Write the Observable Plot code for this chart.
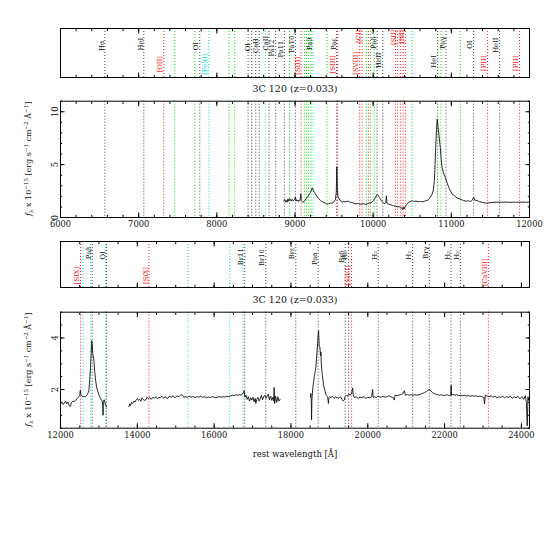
<!DOCTYPE html>
<html><head><meta charset="utf-8">
<script src="https://cdn.jsdelivr.net/npm/d3@7"></script>
<script src="https://cdn.jsdelivr.net/npm/@observablehq/plot@0.6"></script>
<style>
body{margin:0;background:#fff}
#c{position:relative;width:558px;height:558px;background:#fff;overflow:hidden}
#c svg{position:absolute;left:0;overflow:visible}
</style></head><body><div id="c"></div>
<script>
// ---------------- DATA ----------------
const titleText = "3C 120 (z=0.033)";
const xLabelText = "rest wavelength [Å]";

// upper (optical/z-band) spectrum
const upWave = [8856,8870,8880,8890,8899,8910,8920,8930,8941,8952,8962,8975,8984,8995,9005,9012,9020,9030,9040,9048,9058,9068,9074,9080,9090,9100,9112,9125,9140,9154,9170,9185,9197,9210,9222,9230,9245,9261,9280,9303,9325,9346,9370,9390,9410,9430,9455,9474,9495,9517,9528,9535,9542,9550,9565,9585,9602,9625,9650,9687,9710,9730,9751,9775,9800,9836,9860,9885,9910,9935,9960,9985,10005,10025,10040,10052,10065,10080,10092,10110,10135,10150,10162,10169,10176,10199,10225,10250,10284,10310,10330,10348,10365,10378,10385,10395,10412,10430,10454,10475,10497,10520,10550,10580,10604,10630,10660,10689,10710,10731,10753,10770,10783,10792,10800,10810,10820,10830,10845,10859,10870,10881,10900,10923,10945,10966,10990,11008,11040,11072,11110,11140,11158,11190,11220,11243,11265,11286,11300,11328,11360,11400,11430,11456,11490,11520,11584,11640,11700,11750,11797,11850,11900,11950,11995];
const upFlux = [1.55,1.70,1.45,1.62,1.45,1.75,1.55,1.80,1.70,1.55,1.72,1.58,1.62,1.70,1.95,1.55,1.68,1.55,1.65,1.52,1.60,1.75,2.25,1.60,1.50,1.45,1.48,1.62,1.75,1.88,2.05,2.25,2.35,2.60,2.80,2.65,2.40,2.25,2.00,1.78,1.62,1.50,1.42,1.35,1.25,1.30,1.38,1.35,1.45,1.70,2.40,4.80,2.60,1.95,1.75,1.55,1.45,1.52,1.48,1.55,1.40,1.42,1.35,1.30,1.33,1.25,1.28,1.30,1.22,1.33,1.38,1.45,1.62,1.85,2.05,2.17,2.05,1.90,1.75,1.55,1.35,1.30,1.40,2.05,1.35,1.25,1.20,1.12,1.08,1.00,1.05,0.95,0.90,0.75,1.00,0.80,1.06,1.25,1.45,1.50,1.58,1.52,1.55,1.50,1.52,1.48,1.55,1.60,1.70,1.90,2.20,2.60,3.50,5.00,6.60,8.30,9.30,8.60,7.60,6.60,5.50,4.76,4.20,3.80,3.30,2.87,2.50,2.24,2.05,1.86,1.75,1.65,1.60,1.55,1.58,1.50,1.62,1.90,1.65,1.60,1.50,1.42,1.38,1.35,1.40,1.42,1.45,1.44,1.46,1.43,1.45,1.44,1.46,1.44,1.45];

// lower (J/H/K) spectrum; NaN marks the gaps between bands
const lowWave = [12010,12040,12070,12100,12130,12160,12190,12220,12250,12261,12290,12320,12350,12391,12420,12450,12478,12500,12515,12530,12560,12600,12652,12700,12739,12760,12782,12800,12815,12826,12840,12869,12890,12913,12940,12973,13000,13043,13070,13087,13100,13108,13115,13140,13170,13199,13500,
13782,13800,13820,13850,13880,13910,13940,13970,14000,14030,14060,14090,14120,14150,14180,14216,14250,14280,14320,14360,14400,14440,14480,14520,14560,14600,14640,14680,14720,14782,14830,14880,14930,14980,15030,15080,15130,15173,15210,15260,15300,15350,15400,15450,15500,15550,15600,15651,15700,15750,15800,15850,15900,15950,16000,16050,16086,16130,16180,16230,16280,16330,16380,16430,16480,16519,16560,16600,16650,16700,16737,16780,16800,16830,16860,16890,16920,16950,16980,17010,17040,17070,17084,17110,17140,17170,17200,17230,17260,17290,17320,17350,17380,17410,17440,17470,17500,17530,17550,17562,17575,17600,17630,17660,17690,17718,18100,
18505,18519,18530,18536,18545,18571,18590,18606,18630,18649,18670,18693,18708,18719,18735,18754,18770,18780,18790,18805,18823,18850,18884,18910,18930,18953,18975,18990,19010,19040,19070,19100,19130,19160,19200,19250,19290,19330,19360,19388,19410,19440,19470,19500,19540,19580,19605,19620,19650,19700,19750,19800,19850,19900,19950,20000,20050,20100,20127,20140,20180,20220,20260,20300,20350,20400,20450,20500,20550,20600,20650,20692,20710,20760,20800,20850,20900,20953,20980,21030,21080,21130,21180,21230,21280,21330,21380,21430,21480,21530,21580,21610,21640,21680,21720,21770,21820,21870,21920,21970,22020,22070,22120,22160,22170,22180,22220,22270,22320,22370,22420,22470,22520,22570,22620,22670,22720,22770,22820,22870,22920,22970,23020,23039,23060,23110,23160,23210,23260,23310,23360,23410,23460,23510,23560,23610,23660,23710,23760,23810,23860,23910,23960,24010,24060,24100,24130,24151,24170,24190,24210];
const lowFlux = [1.46,1.50,1.42,1.48,1.55,1.45,1.52,1.40,1.34,1.38,1.50,1.55,1.52,1.59,1.62,1.68,1.72,1.75,1.97,1.80,1.75,1.72,1.72,1.80,1.97,2.40,2.87,3.40,3.90,3.75,3.40,3.13,2.70,2.36,2.10,1.91,1.80,1.65,1.58,1.52,1.40,1.00,1.55,1.60,1.40,1.33,NaN,
1.33,1.45,1.38,1.50,1.46,1.55,1.52,1.60,1.65,1.58,1.62,1.55,1.68,1.62,1.58,1.59,1.70,1.65,1.69,1.62,1.70,1.66,1.72,1.64,1.70,1.68,1.74,1.66,1.72,1.65,1.74,1.70,1.76,1.68,1.75,1.72,1.80,1.78,1.70,1.72,1.69,1.74,1.70,1.73,1.69,1.72,1.70,1.74,1.70,1.72,1.68,1.71,1.69,1.72,1.70,1.68,1.70,1.73,1.70,1.72,1.71,1.74,1.72,1.75,1.78,1.76,1.80,1.78,1.80,1.79,1.82,1.95,1.70,1.78,1.62,1.72,1.55,1.68,1.59,1.70,1.52,1.66,1.46,1.62,1.70,1.55,1.65,1.78,1.60,1.72,1.78,1.66,1.75,1.82,1.60,1.75,1.58,1.70,1.55,2.08,1.46,1.75,1.50,1.72,1.55,1.62,NaN,
1.70,1.85,1.50,0.82,1.60,2.10,2.30,2.49,2.70,2.87,3.30,3.77,4.10,4.28,3.70,3.64,3.30,3.45,3.00,2.70,2.49,2.15,1.97,1.80,1.75,1.72,1.46,1.70,1.72,1.68,1.74,1.70,1.66,1.72,1.68,1.66,1.72,1.62,1.55,1.59,1.72,1.78,1.75,1.82,1.78,1.85,2.06,1.80,1.69,1.72,1.66,1.70,1.69,1.72,1.66,1.70,1.68,1.72,2.00,1.69,1.72,1.68,1.74,1.72,1.70,1.74,1.70,1.72,1.76,1.72,1.70,1.59,1.78,1.76,1.78,1.80,1.82,1.95,1.78,1.80,1.78,1.80,1.78,1.80,1.78,1.80,1.82,1.85,1.88,1.93,1.98,2.00,1.95,1.88,1.85,1.82,1.80,1.78,1.80,1.76,1.78,1.80,1.76,1.78,2.17,1.78,1.81,1.78,1.80,1.76,1.78,1.76,1.78,1.75,1.77,1.74,1.76,1.74,1.76,1.72,1.75,1.72,1.70,1.44,1.78,1.74,1.72,1.76,1.70,1.74,1.68,1.72,1.70,1.74,1.68,1.72,1.70,1.74,1.66,1.72,1.68,1.74,1.64,1.72,1.62,1.76,1.50,0.59,1.72,1.58,1.62];

// emission-line markers, upper range  (k=black r=red g=green c=cyan)
const upLineWave = [6567,7066,7321,7462,7718,7782,7897,8157,8229,8400,8446,8498,8542,8621,8668,8753,8864,8930,9005,9078,9120,9146,9175,9206,9231,9410,9531,9546,9827,9858,9913,9942,9965,10013,10050,10122,10284,10313,10348,10382,10412,10497,10825,10868,10932,11115,11285,11464,11618,11873];
const upLineCol  = ["k","k","r","g","g","k","c","g","g","k","k","k","k","c","k","k","k","g","k","r","g","g","g","g","c","g","r","k","r","r","g","r","g","g","k","k","r","r","r","r","r","g","k","g","k","g","k","r","k","r"];
const upLabText = ["Hα","HeI","[OII]","OI","[FeXI]","OI","CaII","CaII","Pa12","Pa11","Pa10","[SIII]","Pa9","[SIII]","Paε","[SVIII]","[CI]","Paδ","HeII","[SII]","[NI]","HeI","Paγ","OI","[PII]","HeII","[PII]"];
const upLabWave = [6567,7066,7321,7782,7897,8446,8542,8668,8753,8864,9005,9078,9231,9531,9546,9827,9858,10050,10122,10313,10412,10825,10932,11285,11464,11618,11873];
const upLabRow  = [0.65,0.68,0.27,0.64,0.27,0.62,0.65,0.70,0.60,0.58,0.68,0.24,0.69,0.27,0.68,0.29,0.84,0.71,0.35,0.82,0.84,0.33,0.71,0.67,0.29,0.66,0.29];
const upLabCol  = ["k","k","r","k","c","k","k","k","k","k","k","r","k","r","k","r","r","k","k","r","r","k","k","k","r","k","r"];

// emission-line markers, lower range
const lowLineWave = [12521,12582,12782,12825,13173,13199,14302,15318,16405,16753,16797,17344,18126,18708,19412,19500,19578,20271,21168,21601,22167,22410,23140];
const lowLineCol  = ["r","c","c","k","c","k","r","c","c","c","k","k","k","k","k","k","r","k","k","k","k","k","r"];
const lowLabText = ["[SIX]","Paβ","OI","[SiX]","Br11","Br10","Brε","Paα","Brδ","H₂","[SiVI]","H₂","H₂","Brγ","H₂","H₂","[CaVIII]"];
const lowLabWave = [12521,12825,13199,14302,16797,17344,18126,18708,19412,19500,19578,20271,21168,21601,22167,22410,23140];
const lowLabRow  = [0.26,0.75,0.70,0.26,0.67,0.65,0.74,0.63,0.67,0.70,0.26,0.70,0.70,0.76,0.70,0.70,0.33];
const lowLabCol  = ["r","k","k","r","k","k","k","k","k","k","r","k","k","k","k","k","r"];

// axes
const upXTicks = [6000,7000,8000,9000,10000,11000,12000];
const upYTicks = [0,5,10];
const lowXTicks = [12000,14000,16000,18000,20000,22000,24000];
const lowYTicks = [2,4];

// ---------------- DRAWING ----------------
const FONT = "DejaVu Serif";
const COLORS = {k:"#444", r:"#ff1a1a", g:"#00dd00", c:"#00e0e0"};
const DASH = "1,2";
const W = 558, ML = 60, MR = 29;
const box = document.getElementById("c");
function put(svg, top){ svg.style.top = top + "px"; box.appendChild(svg); }
const blank = () => "";

function xTicks(majors, minors, labelled, pad){
  return [
    Plot.axisX({anchor:"top", ticks:majors, tickSize:-4.5, tickFormat:blank, label:null, stroke:"#000"}),
    Plot.axisX({anchor:"top", ticks:minors, tickSize:-2.2, tickFormat:blank, label:null, stroke:"#000"}),
    Plot.axisX({anchor:"bottom", ticks:minors, tickSize:-2.2, tickFormat:blank, label:null, stroke:"#000"}),
    Plot.axisX({anchor:"bottom", ticks:majors, tickSize:-4.5, tickFormat: labelled ? (d=>String(d)) : blank, tickPadding: pad, label:null, stroke:"#000", fill:"#111", fontSize:8.3})
  ];
}

function labelPanel(domain, majors, minors, lw, lc, lt, lwv, lr, lcol, top, bottom){
  const lines = lw.map((w,i)=>({w, c: COLORS[lc[i]]}));
  const labs = lt.map((t,i)=>({t, w: lwv[i], y: lr[i], c: lcol[i]==="k" ? "#111" : COLORS[lcol[i]]}));
  const svg = Plot.plot({
    width: W, height: bottom - top + 2, marginLeft: ML, marginRight: MR, marginTop: 1, marginBottom: 1,
    style: {background:"transparent", fontFamily: FONT, overflow:"visible"},
    x: {domain}, y: {domain:[0,1], axis:null}, color: {type:"identity"},
    marks: [
      Plot.ruleX(lines, {x:"w", stroke:"c", strokeDasharray:DASH, strokeWidth:1}),
      Plot.text(labs, {x:"w", y:"y", text:"t", fill:"c", rotate:-90, dx:-3.5, fontSize:6.8, textAnchor:"middle", lineAnchor:"middle"}),
      Plot.frame({stroke:"#000", strokeWidth:1}),
      ...xTicks(majors, minors, false, 0)
    ]
  });
  put(svg, top - 1);
}

function specPanel(domain, ydomain, wave, flux, lw, lc, majors, minors, ymaj, ymin, top, mt, fh, mb, xlabel){
  const pts = wave.map((w,i)=>({w, f: flux[i]}));
  const lines = lw.map((w,i)=>({w, c: COLORS[lc[i]]}));
  const marks = [
    Plot.ruleX(lines, {x:"w", stroke:"c", strokeDasharray:DASH, strokeWidth:1}),
    Plot.line(pts, {x:"w", y:"f", stroke:"#111", strokeWidth:0.9}),
    Plot.frame({stroke:"#000", strokeWidth:1}),
    ...xTicks(majors, minors, true, 8.5),
    Plot.axisY({anchor:"left", ticks:ymaj, tickSize:-4.5, tickRotate:-90, tickPadding:7.5, tickFormat:d=>String(d), label:null, fontSize:8.3, fill:"#111"}),
    Plot.axisY({anchor:"left", ticks:ymin, tickSize:-2.2, tickFormat:blank, label:null}),
    Plot.axisY({anchor:"right", ticks:ymaj, tickSize:-4.5, tickFormat:blank, label:null}),
    Plot.axisY({anchor:"right", ticks:ymin, tickSize:-2.2, tickFormat:blank, label:null}),
    Plot.text([titleText], {frameAnchor:"top", dy:-12.5, text:d=>d, fontSize:9.5, fill:"#111", lineAnchor:"middle"})
  ];
  if (xlabel) marks.push(Plot.text([xlabel], {frameAnchor:"bottom", dy:26.5, text:d=>d, fontSize:8.5, fill:"#111", lineAnchor:"middle"}));
  const svg = Plot.plot({
    width: W, height: mt + fh + mb, marginLeft: ML, marginRight: MR, marginTop: mt, marginBottom: mb,
    style: {background:"transparent", fontFamily: FONT, overflow:"visible"},
    x: {domain}, y: {domain: ydomain}, color: {type:"identity"},
    marks
  });
  // y-axis title with sub/superscripts
  const cy = mt + fh/2;
  const t = d3.select(svg).append("text")
    .attr("transform", `translate(31,${cy}) rotate(-90)`)
    .attr("text-anchor","middle").attr("font-family",FONT).attr("font-size",8).attr("fill","#111");
  t.append("tspan").attr("font-style","italic").text("f");
  t.append("tspan").attr("font-size",5.5).attr("dy",2).text("λ");
  t.append("tspan").attr("dy",-2).text(" x 10");
  t.append("tspan").attr("font-size",5.5).attr("dy",-3).text("−15");
  t.append("tspan").attr("dy",3).text(" [erg s");
  t.append("tspan").attr("font-size",5.5).attr("dy",-3).text("−1");
  t.append("tspan").attr("dy",3).text(" cm");
  t.append("tspan").attr("font-size",5.5).attr("dy",-3).text("−2");
  t.append("tspan").attr("dy",3).text(" Å");
  t.append("tspan").attr("font-size",5.5).attr("dy",-3).text("−1");
  t.append("tspan").attr("dy",3).text("]");
  put(svg, top);
}

const upMinor = d3.range(6000, 12001, 200);
const lowMinor = d3.range(12000, 24300, 500);

labelPanel([6000,12000], upXTicks, upMinor, upLineWave, upLineCol, upLabText, upLabWave, upLabRow, upLabCol, 28, 77);
specPanel([6000,12000], [0,11], upWave, upFlux, upLineWave, upLineCol, upXTicks, upMinor, upYTicks, d3.range(0,11.01,1), 80, 20.7, 116.3, 18, null);
labelPanel([12000,24210], lowXTicks, lowMinor, lowLineWave, lowLineCol, lowLabText, lowLabWave, lowLabRow, lowLabCol, 241, 287);
specPanel([12000,24210], [0.5,5], lowWave, lowFlux, lowLineWave, lowLineCol, lowXTicks, lowMinor, lowYTicks, d3.range(0.5,5.01,0.5), 288, 23.7, 116, 37, xLabelText);
</script></body></html>
